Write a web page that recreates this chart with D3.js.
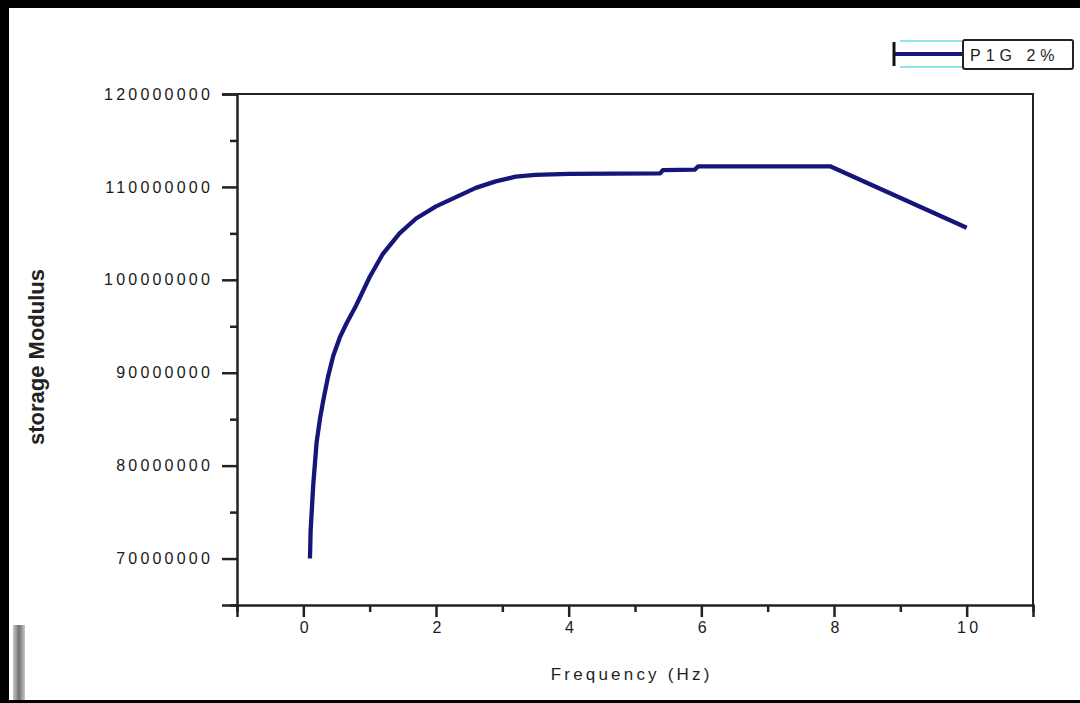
<!DOCTYPE html>
<html>
<head>
<meta charset="utf-8">
<script src="https://cdn.jsdelivr.net/npm/d3@7"></script>
<style>
  body { margin: 0; background: #fff; }
  svg { display: block; }
  .tick text { font-family: "Liberation Sans", Arial, sans-serif; }
</style>
</head>
<body>
<div id="chart-holder"></div>
<script>
// data
var freq = [0.1, 0.11, 0.15, 0.2, 0.25, 0.3, 0.37, 0.45, 0.55, 0.65, 0.8, 1.0, 1.2, 1.45, 1.7, 2.0, 2.3, 2.6, 2.9, 3.2, 3.5, 4.0, 5.38, 5.42, 5.9, 5.95, 7.95, 10.0];
var storage = [70.0, 73.0, 78.0, 82.5, 85.0, 87.0, 89.5, 91.8, 93.8, 95.3, 97.3, 100.3, 102.8, 105.0, 106.6, 107.9, 108.9, 109.9, 110.6, 111.1, 111.3, 111.4, 111.45, 111.8, 111.85, 112.2, 112.2, 105.6].map(function (v) { return v * 1e6; });
var xMajor = [0, 2, 4, 6, 8, 10];
var xMinor = [-1, 1, 3, 5, 7, 9, 11];
var yMajor = [70e6, 80e6, 90e6, 100e6, 110e6, 120e6];
var yMinor = [65e6, 75e6, 85e6, 95e6, 105e6, 115e6];
var seriesName = "P1G 2%";
var xTitle = "Frequency (Hz)";
var yTitle = "storage Modulus";

var W = 1080, H = 703;
var margin = { top: 94, right: 47, bottom: 98, left: 237 },
  width = W - margin.left - margin.right,
  height = H - margin.top - margin.bottom;

var svg = d3.select("#chart-holder").append("svg")
  .attr("width", W)
  .attr("height", H);

// scanned-page borders
svg.append("rect").attr("x", 0).attr("y", 0).attr("width", 9).attr("height", H).attr("fill", "#000");
svg.append("rect").attr("x", 0).attr("y", 0).attr("width", W).attr("height", 8).attr("fill", "#000");
svg.append("rect").attr("x", 0).attr("y", 700).attr("width", W).attr("height", 3).attr("fill", "#000");
var grad = svg.append("defs").append("linearGradient").attr("id", "gbar");
grad.append("stop").attr("offset", "0%").attr("stop-color", "#c8c8c8");
grad.append("stop").attr("offset", "50%").attr("stop-color", "#707070");
grad.append("stop").attr("offset", "100%").attr("stop-color", "#c8c8c8");
svg.append("rect").attr("x", 13).attr("y", 625).attr("width", 12).attr("height", 75).attr("fill", "url(#gbar)");

var g = svg.append("g")
  .attr("transform", "translate(" + margin.left + "," + margin.top + ")");

var x = d3.scaleLinear().domain([-1, 11]).range([0, width]);
var y = d3.scaleLinear().domain([65e6, 120e6]).range([height, 0]);

// frame top / right
g.append("path")
  .attr("d", "M0,0H" + width + "V" + height)
  .attr("fill", "none")
  .attr("stroke", "#222")
  .attr("stroke-width", 2);

// x axis
var xAxis = g.append("g")
  .attr("transform", "translate(0," + height + ")")
  .call(d3.axisBottom(x).tickValues(xMajor).tickSize(12).tickPadding(5).tickFormat(d3.format("d")));
g.append("g")
  .attr("transform", "translate(0," + height + ")")
  .call(d3.axisBottom(x).tickValues(xMinor).tickSize(7).tickFormat(""))
  .select(".domain").remove();

// y axis
var yAxis = g.append("g")
  .call(d3.axisLeft(y).tickValues(yMajor).tickSize(15).tickPadding(9).tickFormat(d3.format("d")));
g.append("g")
  .call(d3.axisLeft(y).tickValues(yMinor).tickSize(7).tickFormat(""))
  .select(".domain").remove();

g.selectAll(".domain").attr("stroke", "#222").attr("stroke-width", 2.5);
g.selectAll(".tick line").attr("stroke", "#222").attr("stroke-width", 2.5);
g.selectAll(".tick text")
  .attr("fill", "#1a1a1a")
  .style("font-size", "16px")
  .style("letter-spacing", "3.2px");
xAxis.selectAll(".tick text").attr("dx", "2px");

// the series
var valueline = d3.line()
  .x(function (d, i) { return x(freq[i]); })
  .y(function (d) { return y(d); });

g.append("path")
  .datum(storage)
  .attr("d", valueline)
  .attr("fill", "none")
  .attr("stroke", "#16167a")
  .attr("stroke-width", 4.3)
  .attr("stroke-linejoin", "round");

// axis titles
svg.append("text")
  .attr("x", margin.left + x(4.95))
  .attr("y", 680)
  .attr("text-anchor", "middle")
  .attr("fill", "#1f1f1f")
  .style("font-family", "'Liberation Sans', Arial, sans-serif")
  .style("font-size", "17px")
  .style("letter-spacing", "3.2px")
  .text(xTitle);

svg.append("text")
  .attr("transform", "translate(44," + 357 + ") rotate(-90)")
  .attr("text-anchor", "middle")
  .attr("fill", "#222")
  .style("font-family", "'Liberation Sans', Arial, sans-serif")
  .style("font-weight", "bold")
  .style("font-size", "22px")
  .text(yTitle);

// legend
var leg = svg.append("g");
leg.append("line").attr("x1", 900).attr("x2", 962).attr("y1", 41).attr("y2", 41)
  .attr("stroke", "#8ee4ea").attr("stroke-width", 2);
leg.append("line").attr("x1", 900).attr("x2", 962).attr("y1", 67).attr("y2", 67)
  .attr("stroke", "#8ee4ea").attr("stroke-width", 2);
leg.append("line").attr("x1", 894).attr("x2", 962).attr("y1", 54).attr("y2", 54)
  .attr("stroke", "#16167a").attr("stroke-width", 4);
leg.append("line").attr("x1", 894).attr("x2", 894).attr("y1", 42).attr("y2", 66)
  .attr("stroke", "#111").attr("stroke-width", 3);
leg.append("rect").attr("x", 963).attr("y", 40).attr("width", 110).attr("height", 29)
  .attr("rx", 2).attr("fill", "#fff").attr("stroke", "#222").attr("stroke-width", 2);
leg.append("text")
  .attr("x", 970).attr("y", 61)
  .attr("fill", "#1f1f1f")
  .style("font-family", "'Liberation Sans', Arial, sans-serif")
  .style("font-size", "16px")
  .style("letter-spacing", "5px")
  .text(seriesName);
</script>
</body>
</html>
